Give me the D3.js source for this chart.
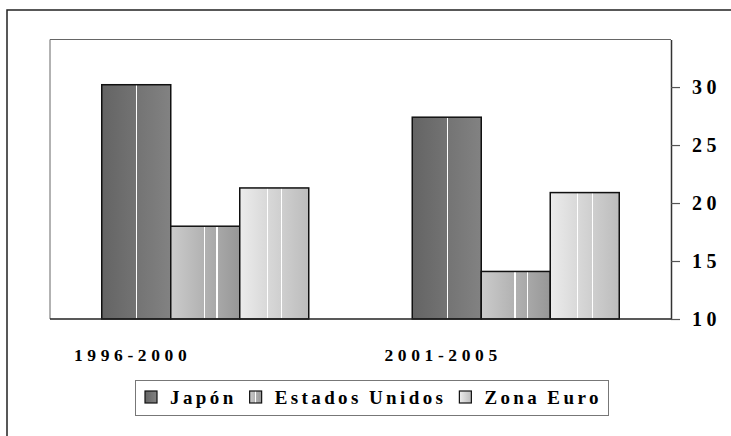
<!DOCTYPE html>
<html>
<head>
<meta charset="utf-8">
<script src="https://cdn.jsdelivr.net/npm/d3@7"></script>
<style>
  body { margin: 0; background: #fff; }
  svg text { font-family: "Liberation Serif", "Times New Roman", serif; font-weight: bold; fill: #000; }
</style>
</head>
<body>
<svg id="drawing_region"></svg>
<script>
const categories = ['1996-2000', '2001-2005'];
const seriesNames = ['Japón', 'Estados Unidos', 'Zona Euro'];
const japon = [30.2, 27.4];
const estadosUnidos = [18.0, 14.1];
const zonaEuro = [21.3, 20.9];
const yTicks = [10, 15, 20, 25, 30];

const seriesValues = [japon, estadosUnidos, zonaEuro];

// gradient look of each series (left colour, right colour, white stripes)
const fills = [
    {id: 'g0', from: '#646464', to: '#828282', stripes: [0.5]},
    {id: 'g1', from: '#cbcbcb', to: '#979797', stripes: [0.48, 0.66]},
    {id: 'g2', from: '#ececec', to: '#bcbcbc', stripes: [0.39, 0.6]}
];

const width = 731, height = 436;
const margin = {top: 39.5, right: 60, bottom: 117, left: 50};
const innerRight = width - margin.right;
const innerBottom = height - margin.bottom;

const svg = d3.select('#drawing_region')
    .attr('width', width)
    .attr('height', height);

const defs = svg.append('defs');
fills.forEach(f => {
    const c = d3.interpolateRgb(f.from, f.to);
    const grad = defs.append('linearGradient')
        .attr('id', f.id)
        .attr('x1', '0%').attr('x2', '100%')
        .attr('y1', '0%').attr('y2', '0%');
    const stops = [[0, f.from]];
    f.stripes.forEach(s => {
        const w = 0.018;
        stops.push([s, c(s)], [s, '#fff'], [s + w, '#fff'], [s + w, c(s + w)]);
    });
    stops.push([1, f.to]);
    stops.forEach(s => grad.append('stop').attr('offset', s[0]).attr('stop-color', s[1]));
});

// outer frame
svg.append('rect')
    .attr('x', 7).attr('y', 10)
    .attr('width', 740).attr('height', 440)
    .attr('fill', 'none')
    .attr('stroke', '#222')
    .attr('stroke-width', 1.5);

const x0 = d3.scaleBand()
    .domain(categories)
    .range([margin.left, innerRight]);

const x1 = d3.scaleBand()
    .domain(seriesNames)
    .range([0, x0.bandwidth()])
    .paddingInner(0)
    .paddingOuter(0.75);

const yscale = d3.scaleLinear()
    .domain([10, 34.1])
    .range([innerBottom, margin.top]);

// plot area frame (left and top)
svg.append('path')
    .attr('d', `M${margin.left},${innerBottom}V${margin.top}H${innerRight}`)
    .attr('fill', 'none')
    .attr('stroke', '#666')
    .attr('stroke-width', 1);

// bars
const groups = svg.selectAll('g.cat')
    .data(categories)
    .join('g')
    .attr('class', 'cat')
    .attr('transform', d => `translate(${x0(d)},0)`);

groups.selectAll('rect')
    .data((d, i) => seriesNames.map((s, j) => ({series: s, j: j, value: seriesValues[j][i]})))
    .join('rect')
    .attr('x', d => x1(d.series))
    .attr('y', d => yscale(d.value))
    .attr('width', x1.bandwidth())
    .attr('height', d => yscale(10) - yscale(d.value))
    .attr('fill', d => `url(#${fills[d.j].id})`)
    .attr('stroke', '#111')
    .attr('stroke-width', 1.5);

// right axis
const yaxis = d3.axisRight(yscale)
    .tickValues(yTicks)
    .tickSize(9)
    .tickPadding(12)
    .tickSizeOuter(0);

const yaxis_group = svg.append('g')
    .attr('transform', `translate(${innerRight},0)`)
    .call(yaxis);
yaxis_group.select('.domain').attr('stroke', '#333').attr('stroke-width', 1.5);
yaxis_group.selectAll('.tick line').attr('stroke', '#555').attr('stroke-width', 1.2);
yaxis_group.selectAll('.tick text')
    .attr('font-size', 20)
    .attr('font-family', '"Liberation Serif", serif')
    .attr('font-weight', 'bold')
    .style('letter-spacing', '4.5px');

// bottom axis line
svg.append('line')
    .attr('x1', margin.left).attr('x2', innerRight)
    .attr('y1', yscale(10)).attr('y2', yscale(10))
    .attr('stroke', '#222')
    .attr('stroke-width', 1.5);

// category labels
svg.selectAll('text.cat')
    .data(categories)
    .join('text')
    .attr('class', 'cat')
    .attr('x', d => x0(d) + 24)
    .attr('y', 355)
    .attr('dy', '0.35em')
    .attr('font-size', 17.5)
    .style('letter-spacing', '4.6px')
    .text(d => d);

// legend
const legend = svg.append('g');
legend.append('rect')
    .attr('x', 135.5).attr('y', 380.5)
    .attr('width', 473).attr('height', 35)
    .attr('fill', '#fff')
    .attr('stroke', '#777')
    .attr('stroke-width', 1);

let lx = 145;
seriesNames.forEach((s, j) => {
    legend.append('rect')
        .attr('x', lx).attr('y', 391)
        .attr('width', 12).attr('height', 12)
        .attr('fill', `url(#${fills[j].id})`)
        .attr('stroke', '#111')
        .attr('stroke-width', 1.2);
    const t = legend.append('text')
        .attr('x', lx + 25)
        .attr('y', 397)
        .attr('dy', '0.35em')
        .attr('font-size', 19)
        .style('letter-spacing', '3.4px')
        .style('word-spacing', '-1px')
        .text(s);
    lx = lx + 25 + t.node().getComputedTextLength() + 13;
});
</script>
</body>
</html>
